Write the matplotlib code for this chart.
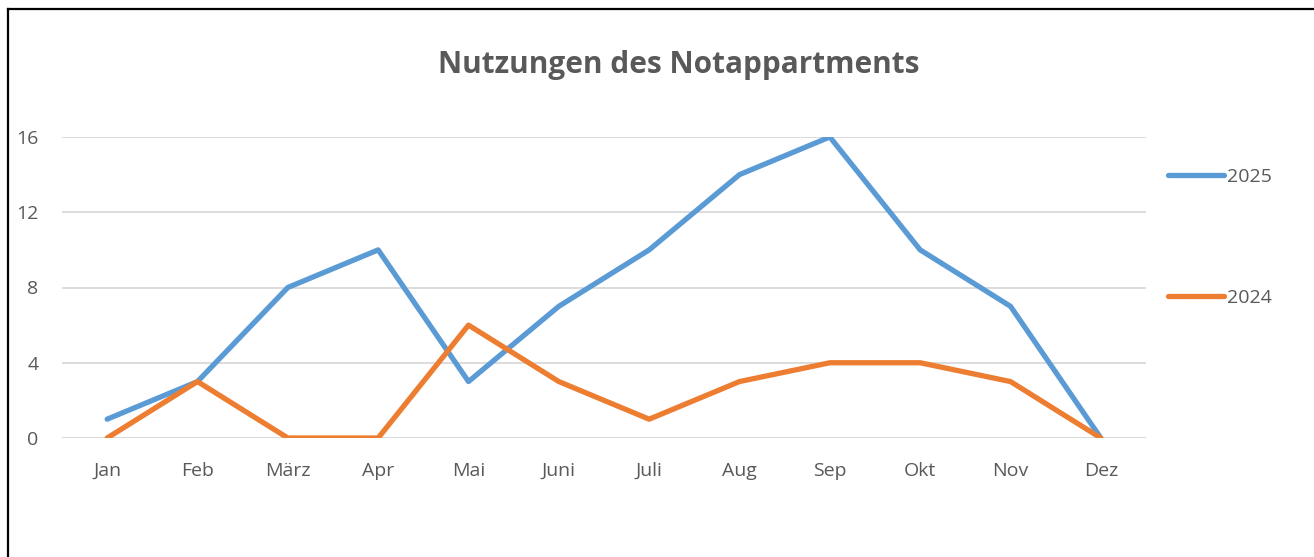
import matplotlib
matplotlib.use("Agg")
import matplotlib.pyplot as plt
from matplotlib.lines import Line2D

months = ["Jan", "Feb", "März", "Apr", "Mai", "Juni", "Juli", "Aug", "Sep", "Okt", "Nov", "Dez"]
values_2025 = [1, 3, 8, 10, 3, 7, 10, 14, 16, 10, 7, 0]
values_2024 = [0, 3, 0, 0, 6, 3, 1, 3, 4, 4, 3, 0]
yticks = [0, 4, 8, 12, 16]
title = "Nutzungen des Notappartments"

plt.rcParams['font.family'] = ['Open Sans', 'DejaVu Sans']
txt = "#595959"

W, H = 1314, 557
fig = plt.figure(figsize=(W / 100, H / 100), dpi=100)
ax = fig.add_axes([62 / W, (H - 438) / H, (1146 - 62) / W, (438 - 137) / H])

x = list(range(len(months)))
ax.plot(x, values_2025, color="#5B9BD5", lw=3.8, solid_capstyle="round", solid_joinstyle="round", label="2025", zorder=3)
ax.plot(x, values_2024, color="#ED7D31", lw=3.8, solid_capstyle="round", solid_joinstyle="round", label="2024", zorder=3)

ax.set_xlim(-0.5, len(months) - 0.5)
ax.set_ylim(0, 16)
ax.set_yticks(yticks)
ax.set_xticks(x)
ax.set_xticklabels(months)
ax.grid(axis="y", color="#D9D9D9", lw=1.3, zorder=0)
for s in ax.spines.values():
    s.set_visible(False)
ax.axhline(0, color="#D9D9D9", lw=1.3, zorder=1)
ax.tick_params(axis="both", length=0, labelsize=14, colors=txt)
ax.tick_params(axis="y", pad=17)
ax.tick_params(axis="x", pad=17)

fig.text((440 + 918) / 2 / W, (H - 65) / H, title, ha="center", va="center",
         fontsize=21.4, fontweight="bold", color=txt)

leg = ax.legend(loc="upper left", bbox_to_anchor=(1160 / W, (H - 160) / H),
                bbox_transform=fig.transFigure, frameon=False, fontsize=14,
                handlelength=2.9, handletextpad=0.15, labelspacing=5.3, borderaxespad=0)
for t in leg.get_texts():
    t.set_color(txt)

# outer border (left and top edges visible)
fig.add_artist(Line2D([7.5 / W, 7.5 / W], [0, (H - 9) / H], color="black", lw=1.6, transform=fig.transFigure))
fig.add_artist(Line2D([7.5 / W, 1], [(H - 9) / H, (H - 9) / H], color="black", lw=1.6, transform=fig.transFigure))

fig.savefig("out.png", dpi=100)
